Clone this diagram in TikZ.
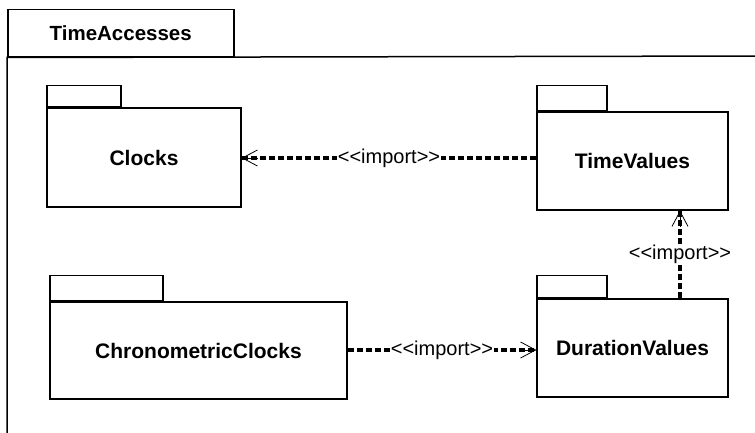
\documentclass[tikz,border=0pt]{standalone}
\usepackage{fontspec}
\setmainfont{Liberation Sans}[Ligatures=NoCommon]
\usetikzlibrary{arrows.meta,positioning,calc}
\newcommand{\imp}{{<}{<}import{>}{>}}
\tikzset{
  pkgbody/.style={draw, line width=1.1pt, inner sep=0pt, font=\fontsize{21}{24}\selectfont\bfseries},
  pkgtab/.style={draw, line width=1.1pt, inner sep=0pt, anchor=south west},
  frame/.style={line width=1.5pt},
  dep/.style={line width=3.4pt, dash pattern=on 6pt off 3pt},
  deptip/.style={line width=0.8pt, -{Straight Barb[length=15pt,width=16pt,line width=0.8pt]}},
  deplabel/.style={fill=white, inner sep=1pt, font=\fontsize{20}{23}\selectfont}
}
\begin{document}
\begin{tikzpicture}[x=1pt,y=-1pt]
\useasboundingbox (0,0) rectangle (755,433);
% outer package
\node[draw, frame, anchor=north west, minimum width=226pt, minimum height=47pt, inner sep=0pt,
      font=\fontsize{20.5}{23}\selectfont\bfseries] (outertab) at (7,9) {TimeAccesses};
\coordinate (ofr) at (770,56);
\coordinate (ofb) at (7,450);
\draw[frame] (ofb) -- (outertab.south west) -- (ofr);
% packages
\node[pkgbody, minimum width=194pt, minimum height=99pt] (clocks) at (144,157.5) {Clocks};
\node[pkgtab, minimum width=74pt, minimum height=21pt] (clockstab) at (clocks.north west) {};
\node[pkgbody, minimum width=191pt, minimum height=98pt] (tv) at (632.5,161) {TimeValues};
\node[pkgtab, minimum width=70pt, minimum height=25pt] (tvtab) at (tv.north west) {};
\node[pkgbody, minimum width=297pt, minimum height=97pt] (cc) at (198.5,350.5) {ChronometricClocks};
\node[pkgtab, minimum width=113pt, minimum height=25pt] (cctab) at (cc.north west) {};
\node[pkgbody, minimum width=191pt, minimum height=98pt] (dv) at (632.5,348) {DurationValues};
\node[pkgtab, minimum width=70pt, minimum height=22pt] (dvtab) at (dv.north west) {};
% dependencies
\coordinate (a1) at (tv.west |- 0,158);
\coordinate (a2) at (clocks.east |- 0,158);
\draw[dep] (a1) -- node[deplabel]{\imp} (a2);
\draw[deptip] ($(a2)+(16,0)$) -- (a2);
\coordinate (b1) at (dv.north -| 680,0);
\coordinate (b2) at (tv.south -| 680,0);
\draw[dep] (b1) -- node[deplabel]{\imp} (b2);
\draw[deptip] ($(b2)+(0,16)$) -- (b2);
\coordinate (c1) at (cc.east |- 0,350);
\coordinate (c2) at (dv.west |- 0,350);
\draw[dep] (c1) -- node[deplabel]{\imp} (c2);
\draw[deptip] ($(c2)+(-16,0)$) -- (c2);
\end{tikzpicture}
\end{document}
